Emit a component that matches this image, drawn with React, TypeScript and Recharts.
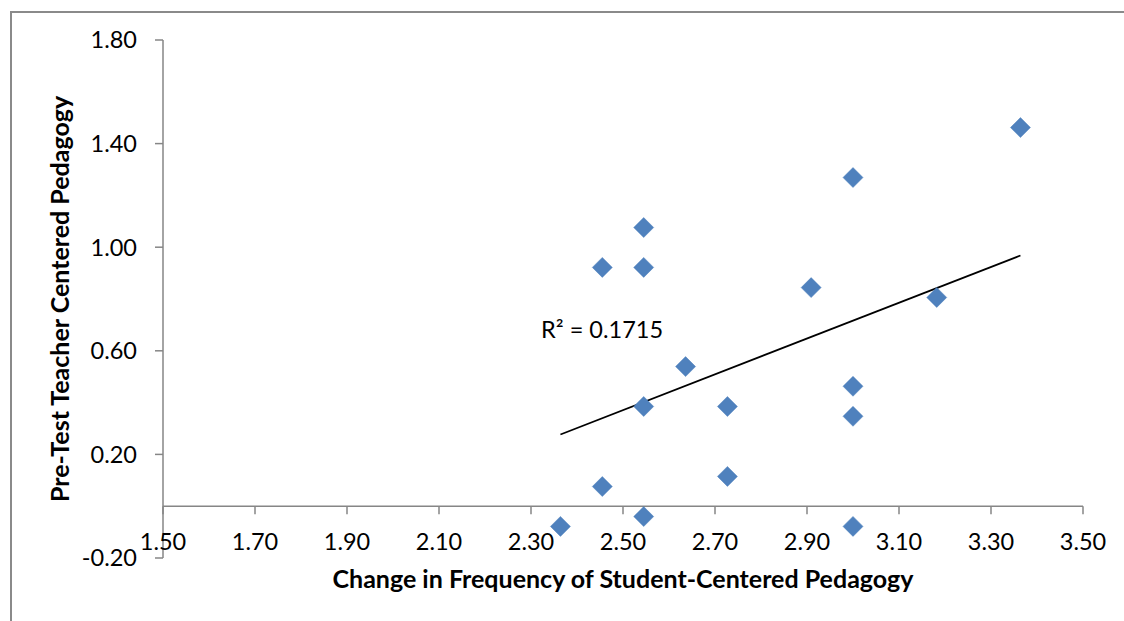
import React from 'react';
import {
  ScatterChart,
  Scatter,
  XAxis,
  YAxis,
  ReferenceLine,
  ReferenceDot,
} from 'recharts';

// ---- data ----
const changeInFrequency = [
  2.364, 2.455, 2.455, 2.545, 2.545, 2.545, 2.545, 2.636, 2.727, 2.727, 2.909,
  3.0, 3.0, 3.0, 3.0, 3.182, 3.364,
];
const preTestTeacher = [
  -0.078, 0.076, 0.922, 1.076, 0.922, 0.385, -0.04, 0.539, 0.385, 0.115, 0.844,
  1.269, 0.463, 0.347, -0.078, 0.806, 1.462,
];
const xTicks = [1.5, 1.7, 1.9, 2.1, 2.3, 2.5, 2.7, 2.9, 3.1, 3.3, 3.5];
const yTicks = [-0.2, 0.2, 0.6, 1.0, 1.4, 1.8];
const trendStart = { x: 2.364, y: 0.277 };
const trendEnd = { x: 3.364, y: 0.968 };
const rSquaredText = 'R² = 0.1715';
const rSquaredAnchor = { x: 2.322, y: 0.682 };
const xTitle = 'Change in Frequency of Student-Centered Pedagogy';
const yTitle = 'Pre-Test Teacher Centered Pedagogy';

const points = changeInFrequency.map((x, i) => ({ x, y: preTestTeacher[i] }));
const xTickMarks = xTicks.map((x) => ({ x, y: 0 }));

const FONT = 'Lato, "Open Sans", sans-serif';
const AXIS_GRAY = '#868686';
const BLUE = '#4F81BD';
const TICK_FS = 23.5;
const TITLE_FS = 25;

const Diamond = (props: any) => {
  const { cx, cy } = props;
  const r = 10;
  return (
    <path
      d={`M${cx},${cy - r}L${cx + r},${cy}L${cx},${cy + r}L${cx - r},${cy}Z`}
      fill={BLUE}
      stroke={BLUE}
      strokeWidth={0.5}
      strokeLinejoin="round"
    />
  );
};

const TickMark = (props: any) => {
  const { cx, cy } = props;
  return <line x1={cx} y1={cy} x2={cx} y2={cy + 8} stroke={AXIS_GRAY} strokeWidth={1.5} />;
};

const XTick = (props: any) => {
  const { x, y, payload } = props;
  return (
    <text x={x} y={y - 8} textAnchor="middle" fill="#000" fontSize={TICK_FS} fontFamily={FONT}>
      {Number(payload.value).toFixed(2)}
    </text>
  );
};

const XTitle = (props: any) => {
  const { x, y, width } = props.viewBox;
  return (
    <text
      x={x + width / 2}
      y={y + 30}
      textAnchor="middle"
      fill="#000"
      fontSize={TITLE_FS}
      fontWeight="bold"
      fontFamily={FONT}
    >
      {xTitle}
    </text>
  );
};

const YTitle = (props: any) => {
  const { x, y, height } = props.viewBox;
  const cx = x + 7;
  const cy = y + height / 2;
  return (
    <text
      x={cx}
      y={cy}
      dy="0.36em"
      transform={`rotate(-90 ${cx} ${cy})`}
      textAnchor="middle"
      fill="#000"
      fontSize={TITLE_FS}
      fontWeight="bold"
      fontFamily={FONT}
    >
      {yTitle}
    </text>
  );
};

export default function App() {
  return (
    <div style={{ position: 'absolute', left: 0, top: 0, width: 1124, height: 621, background: '#fff', overflow: 'hidden' }}>
      <div
        style={{
          position: 'absolute',
          left: 10,
          top: 11,
          width: 1200,
          height: 700,
          borderLeft: '2px solid #8a8a8a',
          borderTop: '2px solid #8a8a8a',
        }}
      />
      <div style={{ position: 'absolute', left: 0, top: 0 }}>
        <ScatterChart width={1124} height={621} margin={{ top: 40, right: 41, bottom: 0, left: 53 }}>
          <XAxis
            type="number"
            dataKey="x"
            domain={[1.5, 3.5]}
            ticks={xTicks}
            interval={0}
            height={63}
            axisLine={false}
            tickLine={false}
            tickSize={0}
            tickMargin={0}
            tick={<XTick />}
            label={{ content: <XTitle /> } as any}
          />
          <YAxis
            type="number"
            dataKey="y"
            domain={[-0.2, 1.8]}
            ticks={yTicks}
            interval={0}
            width={110}
            axisLine={{ stroke: AXIS_GRAY, strokeWidth: 1.5 }}
            tickLine={{ stroke: AXIS_GRAY, strokeWidth: 1.5 }}
            tickSize={8}
            tickMargin={18}
            tick={{ fill: '#000', fontSize: TICK_FS, fontFamily: FONT }}
            tickFormatter={(v: number) => v.toFixed(2)}
            label={{ content: <YTitle /> } as any}
          />
          <ReferenceLine y={0} stroke={AXIS_GRAY} strokeWidth={1.5} />
          <Scatter data={xTickMarks} shape={<TickMark />} isAnimationActive={false} />
          <ReferenceLine
            segment={[trendStart, trendEnd]}
            stroke="#000"
            strokeWidth={1.75}
          />
          <Scatter data={points} shape={<Diamond />} isAnimationActive={false} />
          <ReferenceDot
            x={rSquaredAnchor.x}
            y={rSquaredAnchor.y}
            r={0}
            fill="none"
            stroke="none"
            label={{
              value: rSquaredText,
              position: 'right',
              offset: 0,
              fill: '#000',
              fontSize: TICK_FS,
              fontFamily: FONT,
            }}
          />
        </ScatterChart>
      </div>
    </div>
  );
}
